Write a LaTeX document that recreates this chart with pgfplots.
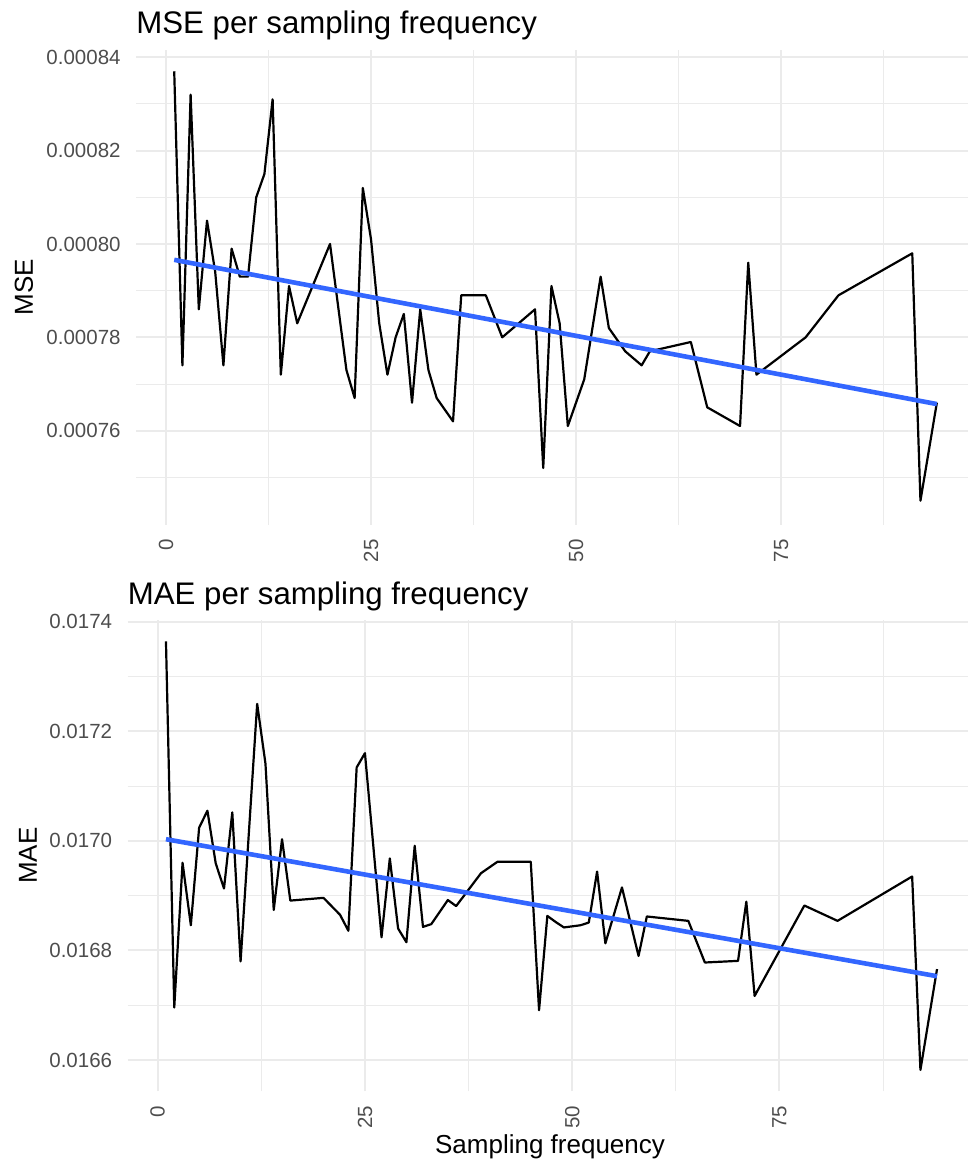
\documentclass[border=0pt]{standalone}
\usepackage{pgfplots}
\pgfplotsset{compat=1.18}
\usepackage{fontspec}
\setmainfont{Liberation Sans}
\definecolor{gridc}{HTML}{EBEBEB}
\definecolor{tickc}{HTML}{4D4D4D}
\definecolor{smoothc}{HTML}{3366FF}

\pgfplotstableread{
x y
1 0.000837
2 0.000774
3 0.000832
4 0.000786
5 0.000805
6 0.000794
7 0.000774
8 0.000799
9 0.000793
10 0.000793
11 0.000810
12 0.000815
13 0.000831
14 0.000772
15 0.000791
16 0.000783
20 0.000800
22 0.000773
23 0.000767
24 0.000812
25 0.000801
26 0.000783
27 0.000772
28 0.000780
29 0.000785
30 0.000766
31 0.000786
32 0.000773
33 0.000767
35 0.000762
36 0.000789
39 0.000789
41 0.000780
45 0.000786
46 0.000752
47 0.000791
48 0.000783
49 0.000761
51 0.000771
52 0.000782
53 0.000793
54 0.000782
56 0.000777
58 0.000774
59 0.000777
64 0.000779
66 0.000765
70 0.000761
71 0.000796
72 0.000772
78 0.000780
82 0.000789
91 0.000798
92 0.000745
94 0.000766
}\msedata

\pgfplotstableread{
x y
1 0.017364
2 0.016696
3 0.016960
4 0.016846
5 0.017024
6 0.017055
7 0.016959
8 0.016913
9 0.017052
10 0.016780
11 0.017015
12 0.017250
13 0.017141
14 0.016874
15 0.017003
16 0.016891
20 0.016896
22 0.016865
23 0.016836
24 0.017134
25 0.017160
26 0.016992
27 0.016824
28 0.016968
29 0.016840
30 0.016815
31 0.016991
32 0.016843
33 0.016848
35 0.016892
36 0.016881
39 0.016941
41 0.016962
45 0.016962
46 0.016691
47 0.016863
48 0.016852
49 0.016842
51 0.016846
52 0.016851
53 0.016944
54 0.016813
56 0.016915
58 0.016790
59 0.016862
64 0.016854
66 0.016778
70 0.016781
71 0.016889
72 0.016717
78 0.016882
82 0.016854
91 0.016935
92 0.016582
94 0.016766
}\maedata

\pgfplotsset{
 gg/.style={
  scale only axis, anchor=north west,
  axis line style={draw=none},
  major tick style={draw=none}, minor tick style={draw=none},
  grid=both,
  major grid style={gridc, line width=1pt},
  minor grid style={gridc, line width=0.5pt},
  xtick={0,25,50,75}, minor xtick={12.5,37.5,62.5,87.5},
  tick label style={font=\fontsize{10.25}{12}\selectfont, text=tickc},
  /pgf/number format/assume math mode=true,
  xticklabel style={rotate=90, anchor=east, inner sep=0pt},
  xticklabel shift=7.25pt,
  yticklabel style={anchor=east, inner sep=0pt},
  yticklabel shift=7.5pt,
  scaled y ticks=false,
  title style={at={(0,1)}, anchor=base west, yshift=2pt, inner sep=0pt,
               font=\fontsize{15.6}{18}\selectfont},
  label style={font=\fontsize{13}{15}\selectfont},
 },
 dataline/.style={black, line width=1.1pt, line join=round},
 fitline/.style={smoothc, line width=2.3pt},
}

\begin{document}
\begin{tikzpicture}
\path[use as bounding box] (0,0) rectangle (484pt,-583pt);

\begin{axis}[gg,
  at={(68pt,-24.9pt)}, width=416pt, height=237.35pt,
  xmin=-3.66, xmax=97.8,
  ymin=0.0007399, ymax=0.0008416,
  ytick={0.00076,0.00078,0.00080,0.00082,0.00084},
  minor ytick={0.00075,0.00077,0.00079,0.00081,0.00083},
  yticklabel style={/pgf/number format/.cd, fixed, precision=5, zerofill},
  title={MSE per sampling frequency},
  ylabel={MSE},
  ylabel style={at={(axis description cs:-0.1346,0.5)}, anchor=center},
]
\addplot[dataline] table[x=x, y=y] {\msedata};
\addplot[fitline] coordinates {(1,0.0007966) (94,0.0007657)};
\end{axis}

\begin{axis}[gg,
  at={(63.75pt,-310pt)}, width=420.25pt, height=235.65pt,
  xmin=-3.64, xmax=97.74,
  ymin=0.016543, ymax=0.017403,
  ytick={0.0166,0.0168,0.0170,0.0172,0.0174},
  minor ytick={0.0167,0.0169,0.0171,0.0173},
  yticklabel style={/pgf/number format/.cd, fixed, precision=4, zerofill},
  title={MAE per sampling frequency},
  ylabel={MAE},
  ylabel style={at={(axis description cs:-0.1184,0.5)}, anchor=center},
  xlabel={Sampling frequency},
  xlabel style={at={(axis description cs:0.5027,-0.118)}, anchor=center},
]
\addplot[dataline] table[x=x, y=y] {\maedata};
\addplot[fitline] coordinates {(1,0.017003) (94,0.016753)};
\end{axis}
\end{tikzpicture}
\end{document}
